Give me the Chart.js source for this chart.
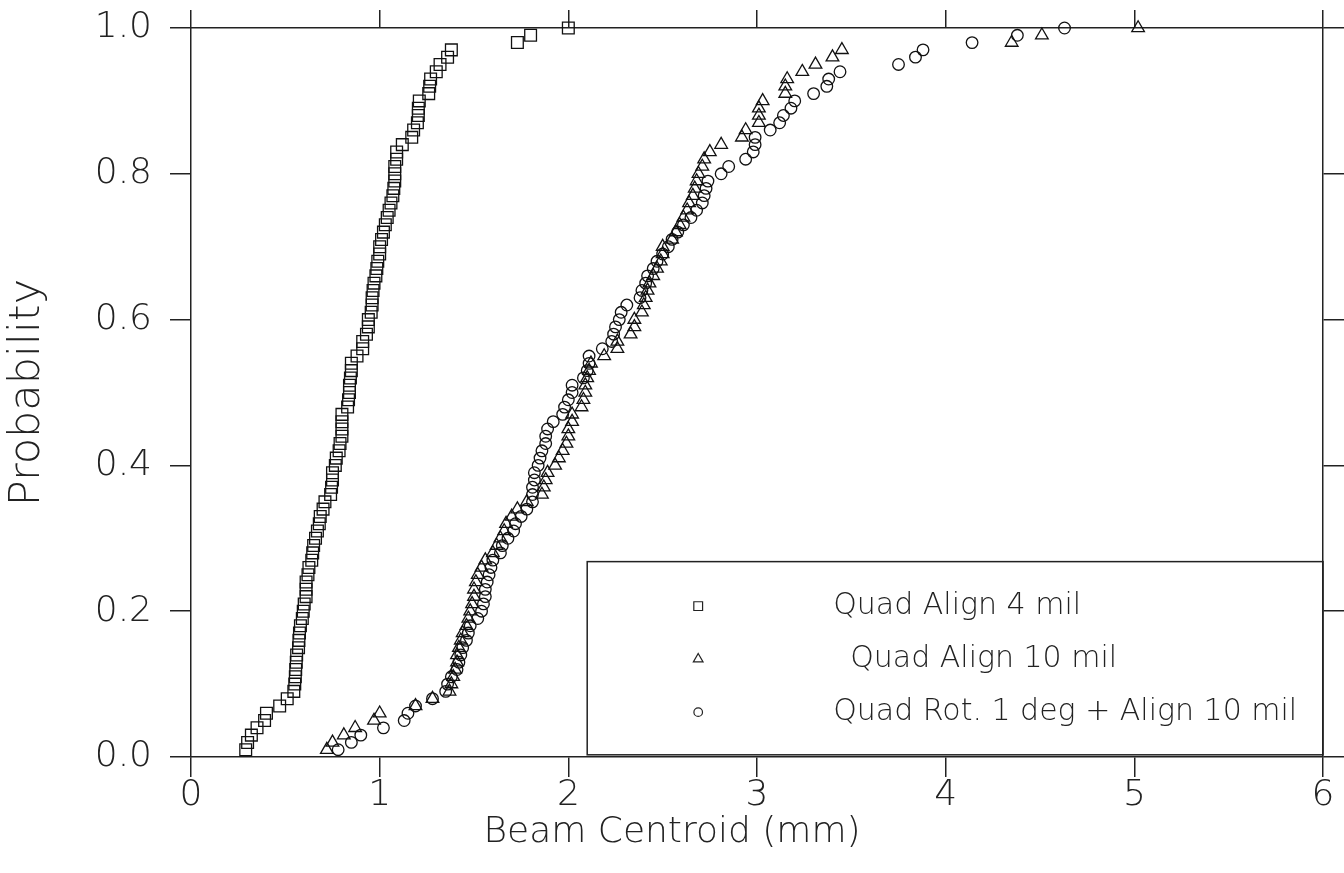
<!DOCTYPE html>
<html>
<head>
<meta charset="utf-8">
<title>Beam Centroid</title>
<script src="https://cdn.jsdelivr.net/npm/chart.js@4.4.1/dist/chart.umd.min.js"></script>
<style>
  html, body { margin: 0; padding: 0; background: #fff; }
  #box { width: 1344px; height: 873px; position: relative; }
</style>
</head>
<body>
<div id="box"><canvas id="beam-chart"></canvas></div>
<script>
// cumulative probability levels shared by all three runs
var probability = [
  0.01, 0.02, 0.03, 0.04, 0.05, 0.06, 0.07, 0.08, 0.09, 0.10,
  0.11, 0.12, 0.13, 0.14, 0.15, 0.16, 0.17, 0.18, 0.19, 0.20,
  0.21, 0.22, 0.23, 0.24, 0.25, 0.26, 0.27, 0.28, 0.29, 0.30,
  0.31, 0.32, 0.33, 0.34, 0.35, 0.36, 0.37, 0.38, 0.39, 0.40,
  0.41, 0.42, 0.43, 0.44, 0.45, 0.46, 0.47, 0.48, 0.49, 0.50,
  0.51, 0.52, 0.53, 0.54, 0.55, 0.56, 0.57, 0.58, 0.59, 0.60,
  0.61, 0.62, 0.63, 0.64, 0.65, 0.66, 0.67, 0.68, 0.69, 0.70,
  0.71, 0.72, 0.73, 0.74, 0.75, 0.76, 0.77, 0.78, 0.79, 0.80,
  0.81, 0.82, 0.83, 0.84, 0.85, 0.86, 0.87, 0.88, 0.89, 0.90,
  0.91, 0.92, 0.93, 0.94, 0.95, 0.96, 0.97, 0.98, 0.99, 1.00
];

// beam centroid (mm) at each probability level
var quadAlign4 = [
  0.29, 0.30, 0.32, 0.35, 0.39, 0.40, 0.47, 0.51, 0.545, 0.55,
  0.553, 0.555, 0.558, 0.56, 0.57, 0.572, 0.575, 0.58, 0.59, 0.595,
  0.60, 0.61, 0.61, 0.61, 0.62, 0.625, 0.64, 0.645, 0.65, 0.66,
  0.67, 0.68, 0.685, 0.70, 0.71, 0.74, 0.745, 0.75, 0.75, 0.765,
  0.77, 0.785, 0.79, 0.80, 0.80, 0.80, 0.80, 0.83, 0.835, 0.84,
  0.84, 0.845, 0.85, 0.85, 0.88, 0.91, 0.91, 0.93, 0.94, 0.94,
  0.955, 0.96, 0.96, 0.965, 0.97, 0.98, 0.985, 0.99, 1.00, 1.00,
  1.01, 1.02, 1.03, 1.04, 1.05, 1.06, 1.07, 1.075, 1.08, 1.08,
  1.08, 1.09, 1.09, 1.12, 1.17, 1.18, 1.20, 1.205, 1.205, 1.21,
  1.26, 1.265, 1.27, 1.30, 1.32, 1.36, 1.38, 1.73, 1.80, 2.00
];

var quadAlign10 = [
  0.72, 0.75, 0.81, 0.87, 0.97, 1.00, 1.19, 1.28, 1.37, 1.38,
  1.39, 1.40, 1.41, 1.41, 1.42, 1.43, 1.44, 1.46, 1.47, 1.48,
  1.49, 1.50, 1.50, 1.51, 1.52, 1.54, 1.56, 1.60, 1.62, 1.64,
  1.66, 1.67, 1.70, 1.73, 1.78, 1.86, 1.87, 1.88, 1.89, 1.93,
  1.95, 1.97, 1.99, 2.00, 2.00, 2.02, 2.02, 2.07, 2.08, 2.09,
  2.09, 2.10, 2.11, 2.12, 2.19, 2.26, 2.26, 2.33, 2.35, 2.35,
  2.39, 2.40, 2.41, 2.42, 2.43, 2.45, 2.47, 2.49, 2.50, 2.50,
  2.55, 2.57, 2.59, 2.61, 2.63, 2.64, 2.66, 2.67, 2.68, 2.69,
  2.71, 2.72, 2.75, 2.81, 2.92, 2.94, 3.01, 3.01, 3.01, 3.03,
  3.15, 3.15, 3.16, 3.24, 3.31, 3.40, 3.45, 4.35, 4.51, 5.02
];

var quadRotAlign10 = [
  0.78, 0.85, 0.90, 1.02, 1.13, 1.15, 1.19, 1.28, 1.35, 1.36,
  1.38, 1.41, 1.42, 1.43, 1.44, 1.46, 1.47, 1.48, 1.52, 1.54,
  1.55, 1.56, 1.56, 1.57, 1.58, 1.59, 1.60, 1.64, 1.65, 1.68,
  1.71, 1.72, 1.75, 1.78, 1.81, 1.81, 1.81, 1.82, 1.82, 1.84,
  1.85, 1.86, 1.88, 1.88, 1.89, 1.92, 1.97, 1.98, 2.00, 2.02,
  2.02, 2.08, 2.10, 2.11, 2.11, 2.18, 2.23, 2.24, 2.25, 2.27,
  2.28, 2.31, 2.38, 2.39, 2.41, 2.42, 2.45, 2.47, 2.50, 2.53,
  2.55, 2.58, 2.61, 2.65, 2.68, 2.71, 2.72, 2.73, 2.74, 2.81,
  2.85, 2.94, 2.98, 2.99, 2.99, 3.07, 3.12, 3.14, 3.18, 3.20,
  3.30, 3.37, 3.38, 3.44, 3.75, 3.84, 3.88, 4.14, 4.38, 4.63
];

var seriesLabels = ['Quad Align 4 mil', 'Quad Align 10 mil', 'Quad Rot. 1 deg + Align 10 mil'];

var INK = '#222';
var FONT = "'DejaVu Sans', 'Liberation Sans', sans-serif";

function toPoints(xs) {
  return xs.map(function (x, i) { return { x: x, y: probability[i] }; });
}

// legend drawn inside the plot, placed in axis units
var legendBox = {
  id: 'legendBox',
  afterDatasetsDraw: function (chart, args, opts) {
    var ctx = chart.ctx;
    var xs = chart.scales.x, ys = chart.scales.y;
    var left = xs.getPixelForValue(opts.xMin);
    var right = xs.getPixelForValue(opts.xMax);
    var top = ys.getPixelForValue(opts.yMax);
    var bottom = ys.getPixelForValue(opts.yMin);
    ctx.save();
    ctx.strokeStyle = INK;
    ctx.lineWidth = 1.5;
    ctx.strokeRect(left, top, right - left, bottom - top);
    ctx.font = opts.font;
    ctx.textBaseline = 'middle';
    chart.data.datasets.forEach(function (ds, i) {
      var y = top + opts.firstRow + i * opts.rowGap;
      ctx.fillStyle = 'rgba(0,0,0,0)';
      ctx.strokeStyle = INK;
      ctx.lineWidth = 1.2;
      Chart.helpers.drawPoint(ctx, {
        pointStyle: ds.pointStyle, radius: opts.symbolRadius[i], borderWidth: 1.2, rotation: 0
      }, left + opts.symbolX, y);
      ctx.fillStyle = INK;
      ctx.fillText(ds.label, left + opts.textX + opts.indent[i], y);
    });
    ctx.restore();
  }
};

// fixed box sizes so the frame lands where the original has it
function fixBox(size) {
  return function (s) {
    if (s.isHorizontal()) { s.height = size; } else { s.width = size; }
    s.paddingTop = 0;
    s.paddingBottom = 0;
    s.paddingLeft = 0;
    s.paddingRight = 0;
  };
}

document.addEventListener('DOMContentLoaded', function () {
  Chart.defaults.font.family = FONT;

  var gridStyle = function (len) {
    return { drawOnChartArea: false, drawTicks: true, tickLength: len, color: INK, lineWidth: 1.5 };
  };
  var borderStyle = { color: INK, width: 1.5 };
  var tickFont = { family: FONT, size: 36, weight: 200 };

  var ctx = document.getElementById('beam-chart').getContext('2d');
  new Chart(ctx, {
    type: 'scatter',
    data: {
      datasets: [{
        label: seriesLabels[0],
        data: toPoints(quadAlign4),
        pointStyle: 'rect',
        pointRadius: 8.3,
        borderColor: '#111',
        backgroundColor: 'rgba(0,0,0,0)',
        borderWidth: 1.3,
        clip: false
      }, {
        label: seriesLabels[1],
        data: toPoints(quadAlign10),
        pointStyle: 'triangle',
        pointRadius: 7.3,
        borderColor: '#111',
        backgroundColor: 'rgba(0,0,0,0)',
        borderWidth: 1.3,
        clip: false
      }, {
        label: seriesLabels[2],
        data: toPoints(quadRotAlign10),
        pointStyle: 'circle',
        pointRadius: 5.8,
        borderColor: '#111',
        backgroundColor: 'rgba(0,0,0,0)',
        borderWidth: 1.3,
        clip: false
      }]
    },
    options: {
      responsive: true,
      maintainAspectRatio: false,
      animation: false,
      devicePixelRatio: 1,
      layout: { padding: 0 },
      scales: {
        x: {
          type: 'linear',
          position: 'bottom',
          min: 0,
          max: 6,
          ticks: { stepSize: 1, color: INK, font: tickFont, padding: -3 },
          grid: gridStyle(20),
          border: borderStyle,
          afterFit: fixBox(60)
        },
        y: {
          type: 'linear',
          position: 'left',
          min: 0,
          max: 1,
          ticks: {
            stepSize: 0.2,
            color: INK,
            font: tickFont,
            padding: 18,
            callback: function (v) { return v.toFixed(1); }
          },
          grid: gridStyle(21),
          border: borderStyle,
          title: {
            display: true,
            text: 'Probability',
            color: INK,
            font: { family: FONT, size: 43, weight: 200, lineHeight: 1.2 },
            padding: { top: 2, bottom: 0 }
          },
          afterFit: fixBox(191)
        },
        xTop: {
          type: 'linear',
          position: 'top',
          min: 0,
          max: 6,
          ticks: { stepSize: 1, display: false },
          grid: gridStyle(18),
          border: borderStyle,
          afterFit: fixBox(28)
        },
        yRight: {
          type: 'linear',
          position: 'right',
          min: 0,
          max: 1,
          ticks: { stepSize: 0.2, display: false },
          grid: gridStyle(21),
          border: borderStyle,
          afterFit: fixBox(21)
        }
      },
      plugins: {
        legend: { display: false },
        tooltip: { enabled: false },
        title: {
          display: true,
          position: 'bottom',
          text: 'Beam Centroid (mm)',
          color: INK,
          font: { family: FONT, size: 36, weight: 200, lineHeight: 1.2 },
          padding: { top: -5.6, bottom: 18.4 }
        },
        legendBox: {
          xMin: 2.1,
          xMax: 6,
          yMin: 0.003,
          yMax: 0.268,
          font: '200 30px ' + FONT,
          firstRow: 44.5,
          rowGap: 53,
          symbolX: 111,
          textX: 246,
          indent: [0, 17, 0],
          symbolRadius: [6.2, 5.6, 4.3]
        }
      }
    },
    plugins: [legendBox]
  });
});
</script>
</body>
</html>
